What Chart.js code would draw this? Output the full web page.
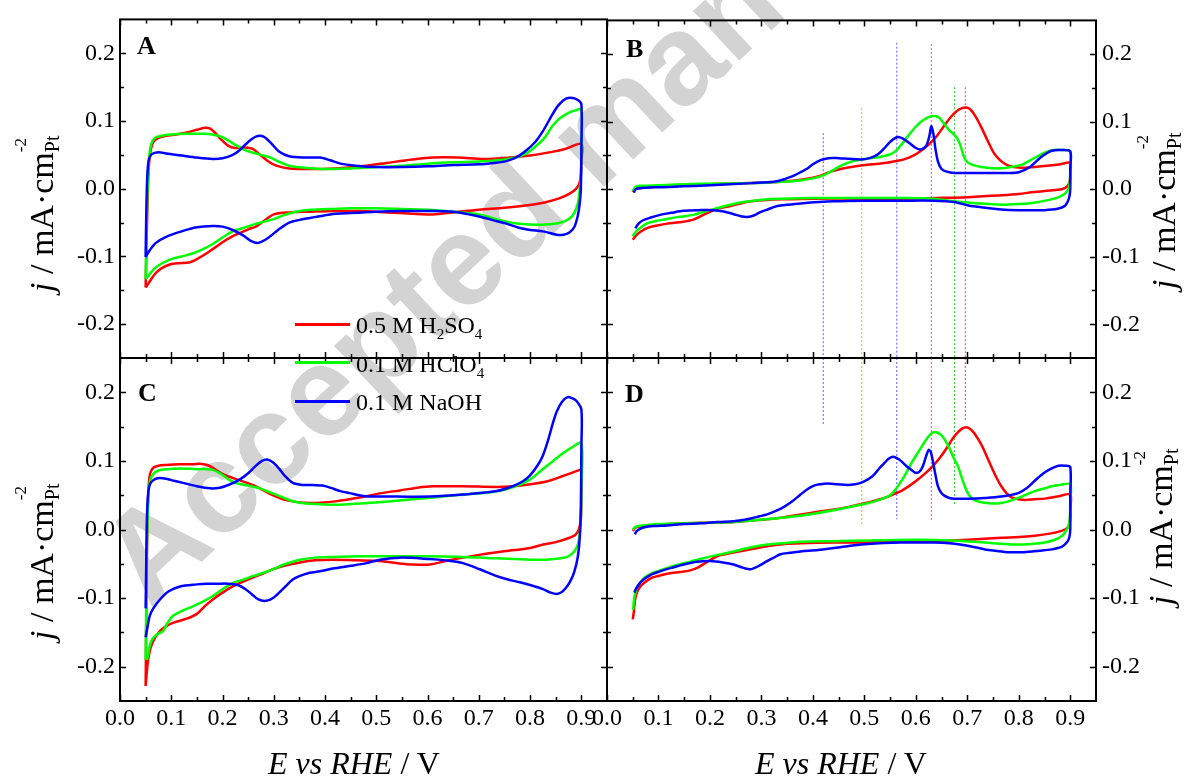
<!DOCTYPE html>
<html>
<head>
<meta charset="utf-8">
<script src="https://cdn.jsdelivr.net/npm/chart.js@4.4.1/dist/chart.umd.min.js"></script>
<style>
  html, body { margin: 0; padding: 0; background: #fff; }
  #stage { position: relative; width: 1189px; height: 776px; overflow: hidden; }
  #stage canvas { position: absolute; left: 0; top: 0; }
  .lbl { position: absolute; font-family: 'Liberation Serif', 'Times New Roman', serif; color: #000; white-space: nowrap; line-height: 1; }
  .watermark { position: absolute; left: 150px; top: 502px; font-family: 'Liberation Sans', Arial, sans-serif; font-weight: bold;
               font-size: 128px; line-height: 1; color: #d3d3d3; white-space: nowrap; transform-origin: 0 108px; transform: rotate(-43deg); }
  .panel { font-size: 26px; font-weight: bold; }
  .leg { font-size: 24px; }
  .leg sub { font-size: 15px; vertical-align: -6px; }
  .swatch { position: absolute; width: 55px; height: 2.5px; }
  .xtitle { font-size: 32px; }
  .ytitle { font-size: 34px; transform-origin: 0 0; transform: rotate(-90deg); }
  .ytitle .sup { font-size: 17px; position: relative; top: -27px; display: inline-block; width: 0; }
  .ytitle .sub { font-size: 20px; position: relative; top: 6px; }
</style>
</head>
<body>
<div id="stage">
  <div class="watermark">Accepted manuscript</div>
  <canvas id="chartA" width="1189" height="776"></canvas>
  <canvas id="chartB" width="1189" height="776"></canvas>
  <canvas id="chartC" width="1189" height="776"></canvas>
  <canvas id="chartD" width="1189" height="776"></canvas>

  <div class="lbl panel" style="left:137px;top:33px">A</div>
  <div class="lbl panel" style="left:626px;top:36px">B</div>
  <div class="lbl panel" style="left:138px;top:380px">C</div>
  <div class="lbl panel" style="left:625px;top:381px">D</div>

  <div class="swatch" style="left:295px;top:323px;background:#ff0000"></div>
  <div class="swatch" style="left:295px;top:361px;background:#00ff00"></div>
  <div class="swatch" style="left:295px;top:400px;background:#0000ff"></div>
  <div class="lbl leg" style="left:356px;top:313px">0.5 M H<sub>2</sub>SO<sub>4</sub></div>
  <div class="lbl leg" style="left:356px;top:352px">0.1 M HClO<sub>4</sub></div>
  <div class="lbl leg" style="left:356px;top:390px">0.1 M NaOH</div>

  <div class="lbl xtitle" style="left:268px;top:747px"><i>E vs RHE</i> / V</div>
  <div class="lbl xtitle" style="left:755px;top:747px"><i>E vs RHE</i> / V</div>

  <div class="lbl ytitle" style="left:25px;top:292px"><i>j</i> / mA·cm<span class="sup">-2</span><span class="sub">Pt</span></div>
  <div class="lbl ytitle" style="left:1147px;top:289px"><i>j</i> / mA·cm<span class="sup">-2</span><span class="sub">Pt</span></div>
  <div class="lbl ytitle" style="left:25px;top:640px"><i>j</i> / mA·cm<span class="sup">-2</span><span class="sub">Pt</span></div>
  <div class="lbl ytitle" style="left:1144px;top:605px"><i>j</i> / mA·cm<span class="sup">-2</span><span class="sub">Pt</span></div>
</div>
<script>
// axis ticks
const xMajorTicks = [0, 0.1, 0.2, 0.3, 0.4, 0.5, 0.6, 0.7, 0.8, 0.9];
const xMinorTicks = [0.05, 0.15, 0.25, 0.35, 0.45, 0.55, 0.65, 0.75, 0.85];
const yMajorTicks = [-0.2, -0.1, 0, 0.1, 0.2];
const yMinorTicks = [-0.15, -0.05, 0.05, 0.15];

// CV loops, [E (V), j (mA cm-2)] - anodic sweep then cathodic sweep
const A_H2SO4 = [[0.050,-0.146],[0.051,-0.110],[0.053,-0.040],[0.056,0.030],[0.060,0.058],[0.066,0.070],[0.075,0.075],[0.090,0.078],[0.110,0.080],[0.130,0.083],[0.150,0.087],[0.165,0.090],[0.175,0.089],[0.185,0.083],[0.197,0.073],[0.210,0.064],[0.225,0.060],[0.245,0.061],[0.258,0.059],[0.272,0.051],[0.288,0.041],[0.305,0.034],[0.33,0.030],[0.37,0.029],[0.42,0.030],[0.47,0.033],[0.52,0.038],[0.57,0.043],[0.61,0.046],[0.66,0.046],[0.71,0.044],[0.76,0.046],[0.80,0.049],[0.84,0.054],[0.87,0.059],[0.90,0.066],
  [0.900,0.040],[0.899,0.020],[0.896,0.008],[0.890,0.000],[0.878,-0.007],[0.858,-0.014],[0.83,-0.020],[0.80,-0.024],[0.75,-0.028],[0.70,-0.031],[0.65,-0.035],[0.61,-0.038],[0.57,-0.037],[0.52,-0.035],[0.47,-0.033],[0.42,-0.033],[0.37,-0.034],[0.33,-0.035],[0.30,-0.038],[0.28,-0.048],[0.265,-0.056],[0.25,-0.060],[0.235,-0.065],[0.22,-0.070],[0.20,-0.079],[0.185,-0.087],[0.17,-0.095],[0.15,-0.104],[0.135,-0.109],[0.115,-0.110],[0.097,-0.112],[0.08,-0.118],[0.068,-0.126],[0.058,-0.137],[0.050,-0.146]];
const A_HClO4 = [[0.050,-0.133],[0.051,-0.090],[0.053,-0.020],[0.056,0.040],[0.061,0.066],[0.068,0.075],[0.08,0.078],[0.10,0.080],[0.13,0.081],[0.16,0.081],[0.18,0.080],[0.20,0.076],[0.22,0.067],[0.244,0.057],[0.27,0.051],[0.29,0.047],[0.31,0.040],[0.33,0.034],[0.36,0.031],[0.40,0.029],[0.45,0.030],[0.50,0.032],[0.55,0.034],[0.60,0.037],[0.65,0.039],[0.70,0.040],[0.75,0.043],[0.77,0.046],[0.79,0.051],[0.81,0.062],[0.828,0.075],[0.845,0.094],[0.86,0.105],[0.875,0.112],[0.89,0.116],[0.90,0.117],
  [0.900,0.060],[0.899,0.020],[0.897,0.000],[0.893,-0.022],[0.886,-0.036],[0.877,-0.044],[0.86,-0.050],[0.83,-0.053],[0.80,-0.053],[0.77,-0.051],[0.75,-0.048],[0.72,-0.042],[0.70,-0.038],[0.65,-0.034],[0.60,-0.031],[0.55,-0.030],[0.50,-0.029],[0.45,-0.029],[0.41,-0.030],[0.38,-0.031],[0.35,-0.033],[0.32,-0.039],[0.30,-0.045],[0.28,-0.049],[0.26,-0.053],[0.24,-0.058],[0.22,-0.063],[0.20,-0.072],[0.18,-0.082],[0.16,-0.090],[0.14,-0.096],[0.12,-0.100],[0.10,-0.104],[0.085,-0.109],[0.07,-0.116],[0.06,-0.124],[0.053,-0.131],[0.050,-0.133]];
const A_NaOH = [[0.050,-0.101],[0.051,-0.050],[0.053,0.015],[0.056,0.042],[0.062,0.051],[0.075,0.054],[0.09,0.052],[0.12,0.049],[0.15,0.046],[0.18,0.044],[0.20,0.045],[0.22,0.050],[0.235,0.058],[0.25,0.069],[0.265,0.077],[0.28,0.077],[0.295,0.067],[0.31,0.055],[0.33,0.048],[0.36,0.046],[0.39,0.046],[0.41,0.042],[0.43,0.037],[0.46,0.034],[0.50,0.032],[0.55,0.032],[0.60,0.033],[0.65,0.035],[0.70,0.036],[0.73,0.038],[0.75,0.040],[0.77,0.045],[0.79,0.055],[0.81,0.069],[0.825,0.085],[0.84,0.105],[0.855,0.123],[0.87,0.133],[0.883,0.134],[0.893,0.131],[0.90,0.125],
  [0.900,0.060],[0.899,0.000],[0.897,-0.020],[0.893,-0.040],[0.886,-0.057],[0.876,-0.065],[0.865,-0.068],[0.852,-0.068],[0.825,-0.063],[0.80,-0.061],[0.78,-0.058],[0.755,-0.052],[0.735,-0.048],[0.70,-0.041],[0.65,-0.034],[0.60,-0.033],[0.55,-0.033],[0.50,-0.034],[0.45,-0.036],[0.41,-0.038],[0.38,-0.042],[0.35,-0.046],[0.33,-0.050],[0.31,-0.060],[0.29,-0.072],[0.27,-0.080],[0.255,-0.077],[0.24,-0.069],[0.22,-0.061],[0.20,-0.056],[0.18,-0.055],[0.15,-0.057],[0.12,-0.063],[0.09,-0.071],[0.07,-0.080],[0.058,-0.091],[0.050,-0.101]];

const B_H2SO4 = [[0.050,-0.004],[0.056,0.002],[0.07,0.004],[0.10,0.005],[0.18,0.007],[0.28,0.009],[0.34,0.011],[0.376,0.014],[0.40,0.017],[0.415,0.020],[0.435,0.026],[0.454,0.030],[0.475,0.033],[0.493,0.035],[0.515,0.037],[0.532,0.038],[0.55,0.040],[0.565,0.042],[0.58,0.045],[0.596,0.050],[0.61,0.057],[0.625,0.066],[0.64,0.078],[0.655,0.094],[0.668,0.107],[0.68,0.116],[0.69,0.120],[0.698,0.121],[0.706,0.118],[0.715,0.109],[0.727,0.092],[0.74,0.071],[0.752,0.053],[0.765,0.042],[0.78,0.035],[0.80,0.032],[0.83,0.033],[0.86,0.035],[0.88,0.037],[0.90,0.039],
  [0.900,0.025],[0.899,0.012],[0.894,0.004],[0.883,0.000],[0.86,-0.002],[0.83,-0.004],[0.80,-0.007],[0.766,-0.009],[0.70,-0.012],[0.635,-0.013],[0.571,-0.014],[0.50,-0.014],[0.40,-0.014],[0.34,-0.015],[0.31,-0.016],[0.28,-0.018],[0.265,-0.020],[0.24,-0.025],[0.214,-0.029],[0.19,-0.037],[0.168,-0.045],[0.14,-0.049],[0.117,-0.051],[0.095,-0.054],[0.08,-0.057],[0.065,-0.063],[0.056,-0.069],[0.050,-0.075]];
const B_HClO4 = [[0.050,-0.003],[0.056,0.004],[0.07,0.005],[0.10,0.006],[0.18,0.008],[0.28,0.009],[0.34,0.011],[0.376,0.013],[0.40,0.016],[0.415,0.019],[0.43,0.024],[0.441,0.029],[0.455,0.035],[0.468,0.039],[0.48,0.042],[0.493,0.044],[0.51,0.046],[0.532,0.048],[0.548,0.051],[0.56,0.056],[0.572,0.066],[0.585,0.079],[0.598,0.091],[0.61,0.100],[0.62,0.105],[0.63,0.108],[0.643,0.107],[0.655,0.097],[0.665,0.087],[0.674,0.081],[0.68,0.076],[0.686,0.066],[0.694,0.047],[0.70,0.040],[0.71,0.036],[0.727,0.033],[0.75,0.031],[0.766,0.031],[0.785,0.033],[0.805,0.036],[0.83,0.046],[0.85,0.054],[0.869,0.058],[0.885,0.058],[0.90,0.056],
  [0.900,0.030],[0.899,0.010],[0.896,0.000],[0.889,-0.007],[0.869,-0.014],[0.83,-0.020],[0.80,-0.022],[0.766,-0.023],[0.721,-0.021],[0.674,-0.018],[0.635,-0.014],[0.571,-0.013],[0.50,-0.013],[0.40,-0.013],[0.34,-0.014],[0.312,-0.015],[0.285,-0.017],[0.265,-0.019],[0.24,-0.023],[0.214,-0.028],[0.19,-0.033],[0.168,-0.038],[0.14,-0.041],[0.117,-0.044],[0.095,-0.047],[0.08,-0.050],[0.065,-0.057],[0.056,-0.063],[0.050,-0.070]];
const B_NaOH = [[0.052,-0.005],[0.056,0.000],[0.07,0.002],[0.10,0.003],[0.18,0.005],[0.28,0.009],[0.324,0.011],[0.345,0.015],[0.363,0.020],[0.378,0.026],[0.39,0.031],[0.40,0.037],[0.415,0.043],[0.43,0.046],[0.45,0.046],[0.47,0.045],[0.493,0.044],[0.51,0.046],[0.525,0.051],[0.538,0.060],[0.55,0.070],[0.563,0.077],[0.575,0.075],[0.588,0.068],[0.60,0.061],[0.61,0.059],[0.62,0.064],[0.626,0.078],[0.63,0.093],[0.634,0.082],[0.638,0.060],[0.643,0.041],[0.65,0.030],[0.66,0.026],[0.675,0.024],[0.70,0.024],[0.75,0.024],[0.78,0.024],[0.80,0.025],[0.82,0.032],[0.844,0.048],[0.864,0.057],[0.885,0.058],[0.90,0.056],
  [0.900,0.030],[0.900,0.000],[0.898,-0.012],[0.894,-0.020],[0.889,-0.025],[0.875,-0.029],[0.85,-0.031],[0.83,-0.031],[0.80,-0.031],[0.766,-0.030],[0.73,-0.027],[0.702,-0.024],[0.674,-0.019],[0.635,-0.017],[0.571,-0.017],[0.50,-0.017],[0.441,-0.018],[0.376,-0.021],[0.35,-0.023],[0.331,-0.025],[0.312,-0.030],[0.298,-0.034],[0.285,-0.039],[0.273,-0.041],[0.26,-0.040],[0.246,-0.037],[0.227,-0.033],[0.207,-0.031],[0.18,-0.031],[0.148,-0.032],[0.125,-0.035],[0.103,-0.038],[0.085,-0.042],[0.07,-0.046],[0.06,-0.052],[0.055,-0.058]];

const C_H2SO4 = [[0.050,-0.228],[0.051,-0.150],[0.052,-0.060],[0.054,0.020],[0.056,0.065],[0.059,0.082],[0.065,0.090],[0.075,0.093],[0.09,0.094],[0.117,0.095],[0.14,0.095],[0.156,0.096],[0.17,0.094],[0.181,0.090],[0.195,0.083],[0.209,0.078],[0.228,0.073],[0.248,0.068],[0.262,0.064],[0.273,0.060],[0.285,0.055],[0.298,0.050],[0.318,0.044],[0.337,0.041],[0.36,0.039],[0.39,0.039],[0.42,0.041],[0.47,0.047],[0.51,0.053],[0.546,0.057],[0.58,0.061],[0.61,0.063],[0.669,0.063],[0.735,0.062],[0.766,0.063],[0.80,0.066],[0.832,0.070],[0.864,0.078],[0.897,0.087],[0.90,0.088],
  [0.900,0.050],[0.899,0.015],[0.895,0.000],[0.888,-0.008],[0.877,-0.012],[0.852,-0.018],[0.82,-0.023],[0.80,-0.027],[0.77,-0.030],[0.735,-0.033],[0.70,-0.037],[0.669,-0.041],[0.635,-0.046],[0.604,-0.051],[0.571,-0.051],[0.54,-0.049],[0.507,-0.046],[0.46,-0.045],[0.415,-0.044],[0.38,-0.045],[0.351,-0.048],[0.32,-0.053],[0.298,-0.058],[0.28,-0.064],[0.259,-0.070],[0.24,-0.076],[0.22,-0.083],[0.20,-0.092],[0.181,-0.102],[0.165,-0.112],[0.15,-0.123],[0.13,-0.130],[0.103,-0.136],[0.088,-0.142],[0.078,-0.148],[0.068,-0.158],[0.06,-0.172],[0.055,-0.190],[0.052,-0.210],[0.050,-0.228]];
const C_HClO4 = [[0.050,-0.190],[0.051,-0.120],[0.052,-0.050],[0.054,0.020],[0.056,0.055],[0.059,0.072],[0.065,0.081],[0.075,0.086],[0.09,0.088],[0.12,0.089],[0.15,0.088],[0.17,0.088],[0.181,0.087],[0.195,0.082],[0.21,0.074],[0.225,0.068],[0.25,0.064],[0.273,0.060],[0.29,0.055],[0.31,0.049],[0.33,0.043],[0.35,0.039],[0.38,0.037],[0.415,0.036],[0.47,0.038],[0.54,0.042],[0.60,0.046],[0.669,0.051],[0.72,0.054],[0.75,0.058],[0.775,0.064],[0.80,0.073],[0.82,0.085],[0.84,0.097],[0.864,0.111],[0.88,0.119],[0.90,0.126],
  [0.900,0.060],[0.899,0.020],[0.897,-0.005],[0.893,-0.022],[0.886,-0.032],[0.875,-0.039],[0.86,-0.042],[0.83,-0.044],[0.799,-0.044],[0.735,-0.042],[0.669,-0.040],[0.60,-0.039],[0.54,-0.039],[0.47,-0.039],[0.415,-0.040],[0.38,-0.041],[0.351,-0.044],[0.32,-0.051],[0.298,-0.058],[0.28,-0.063],[0.259,-0.068],[0.24,-0.073],[0.220,-0.078],[0.20,-0.087],[0.181,-0.097],[0.16,-0.106],[0.142,-0.112],[0.12,-0.119],[0.103,-0.126],[0.092,-0.137],[0.084,-0.148],[0.072,-0.153],[0.063,-0.160],[0.058,-0.170],[0.053,-0.190]];
const C_NaOH = [[0.050,-0.115],[0.051,-0.060],[0.052,0.000],[0.054,0.045],[0.057,0.063],[0.062,0.070],[0.07,0.074],[0.078,0.075],[0.09,0.074],[0.10,0.072],[0.123,0.068],[0.15,0.063],[0.175,0.060],[0.195,0.061],[0.215,0.066],[0.234,0.073],[0.25,0.082],[0.265,0.093],[0.277,0.100],[0.287,0.102],[0.298,0.098],[0.31,0.089],[0.323,0.077],[0.337,0.068],[0.356,0.065],[0.376,0.065],[0.395,0.064],[0.41,0.061],[0.43,0.056],[0.448,0.053],[0.475,0.049],[0.507,0.048],[0.54,0.048],[0.604,0.048],[0.669,0.051],[0.735,0.056],[0.766,0.063],[0.785,0.070],[0.80,0.079],[0.815,0.094],[0.825,0.108],[0.835,0.130],[0.844,0.154],[0.852,0.172],[0.862,0.186],[0.873,0.193],[0.883,0.191],[0.891,0.187],[0.90,0.175],
  [0.900,0.120],[0.899,0.034],[0.897,-0.010],[0.893,-0.040],[0.886,-0.062],[0.878,-0.076],[0.87,-0.085],[0.862,-0.091],[0.852,-0.094],[0.84,-0.092],[0.825,-0.087],[0.80,-0.081],[0.78,-0.077],[0.757,-0.073],[0.735,-0.068],[0.702,-0.058],[0.669,-0.049],[0.635,-0.045],[0.604,-0.043],[0.546,-0.041],[0.507,-0.044],[0.481,-0.049],[0.45,-0.053],[0.415,-0.057],[0.39,-0.061],[0.37,-0.063],[0.35,-0.068],[0.337,-0.073],[0.32,-0.085],[0.30,-0.099],[0.285,-0.104],[0.27,-0.102],[0.258,-0.095],[0.245,-0.087],[0.23,-0.081],[0.21,-0.079],[0.19,-0.079],[0.17,-0.079],[0.15,-0.080],[0.117,-0.083],[0.095,-0.090],[0.078,-0.102],[0.065,-0.115],[0.058,-0.126],[0.053,-0.145],[0.050,-0.157]];

const D_H2SO4 = [[0.050,-0.002],[0.056,0.003],[0.071,0.005],[0.10,0.007],[0.149,0.009],[0.20,0.010],[0.246,0.011],[0.28,0.013],[0.311,0.015],[0.345,0.018],[0.376,0.022],[0.41,0.026],[0.441,0.029],[0.47,0.033],[0.493,0.037],[0.515,0.041],[0.539,0.046],[0.555,0.051],[0.571,0.056],[0.588,0.064],[0.604,0.073],[0.62,0.083],[0.636,0.095],[0.65,0.108],[0.662,0.121],[0.672,0.133],[0.682,0.142],[0.69,0.147],[0.697,0.149],[0.705,0.147],[0.714,0.140],[0.727,0.124],[0.737,0.108],[0.747,0.091],[0.757,0.075],[0.766,0.063],[0.776,0.053],[0.786,0.047],[0.80,0.044],[0.812,0.043],[0.83,0.044],[0.851,0.045],[0.875,0.048],[0.90,0.051],
  [0.900,0.030],[0.899,0.010],[0.894,0.002],[0.883,-0.002],[0.86,-0.006],[0.831,-0.009],[0.80,-0.011],[0.766,-0.012],[0.701,-0.015],[0.636,-0.017],[0.571,-0.018],[0.50,-0.019],[0.441,-0.019],[0.376,-0.020],[0.345,-0.021],[0.324,-0.023],[0.30,-0.026],[0.279,-0.029],[0.25,-0.033],[0.23,-0.036],[0.214,-0.039],[0.195,-0.047],[0.175,-0.056],[0.16,-0.060],[0.142,-0.062],[0.12,-0.064],[0.103,-0.067],[0.088,-0.070],[0.077,-0.075],[0.066,-0.082],[0.058,-0.092],[0.054,-0.105],[0.052,-0.121],[0.050,-0.131]];
const D_HClO4 = [[0.050,0.000],[0.056,0.004],[0.071,0.006],[0.10,0.008],[0.149,0.009],[0.20,0.010],[0.246,0.011],[0.31,0.015],[0.376,0.020],[0.44,0.028],[0.493,0.036],[0.52,0.041],[0.539,0.046],[0.55,0.050],[0.558,0.056],[0.567,0.065],[0.578,0.078],[0.59,0.095],[0.604,0.112],[0.614,0.124],[0.623,0.134],[0.63,0.140],[0.636,0.142],[0.642,0.141],[0.649,0.138],[0.657,0.130],[0.665,0.119],[0.673,0.105],[0.682,0.092],[0.688,0.078],[0.695,0.063],[0.701,0.053],[0.708,0.046],[0.72,0.041],[0.734,0.039],[0.75,0.038],[0.76,0.038],[0.78,0.041],[0.799,0.046],[0.815,0.051],[0.831,0.056],[0.85,0.060],[0.864,0.063],[0.88,0.065],[0.90,0.066],
  [0.900,0.040],[0.899,0.015],[0.896,0.005],[0.89,-0.004],[0.883,-0.010],[0.87,-0.015],[0.851,-0.019],[0.825,-0.021],[0.799,-0.022],[0.77,-0.021],[0.734,-0.019],[0.669,-0.016],[0.604,-0.015],[0.506,-0.016],[0.44,-0.017],[0.376,-0.018],[0.34,-0.020],[0.311,-0.022],[0.28,-0.026],[0.246,-0.032],[0.215,-0.037],[0.181,-0.043],[0.155,-0.048],[0.129,-0.053],[0.11,-0.058],[0.09,-0.063],[0.075,-0.069],[0.064,-0.078],[0.058,-0.085],[0.055,-0.092],[0.052,-0.105],[0.051,-0.117]];
const D_NaOH = [[0.054,-0.007],[0.058,-0.002],[0.064,0.001],[0.071,0.003],[0.09,0.005],[0.116,0.006],[0.15,0.008],[0.181,0.009],[0.215,0.011],[0.246,0.012],[0.265,0.014],[0.279,0.016],[0.295,0.019],[0.311,0.022],[0.328,0.027],[0.344,0.033],[0.36,0.041],[0.376,0.051],[0.39,0.059],[0.402,0.064],[0.415,0.066],[0.428,0.067],[0.447,0.066],[0.467,0.065],[0.482,0.066],[0.493,0.068],[0.507,0.073],[0.519,0.080],[0.53,0.090],[0.539,0.097],[0.547,0.103],[0.555,0.106],[0.563,0.104],[0.571,0.100],[0.581,0.093],[0.591,0.087],[0.598,0.083],[0.604,0.083],[0.609,0.086],[0.614,0.093],[0.62,0.107],[0.625,0.116],[0.629,0.113],[0.633,0.100],[0.638,0.080],[0.643,0.063],[0.649,0.054],[0.656,0.049],[0.665,0.046],[0.675,0.045],[0.70,0.045],[0.734,0.046],[0.766,0.048],[0.799,0.053],[0.815,0.060],[0.831,0.071],[0.848,0.082],[0.864,0.089],[0.877,0.093],[0.89,0.093],[0.90,0.091],
  [0.900,0.050],[0.900,0.000],[0.898,-0.012],[0.893,-0.019],[0.884,-0.025],[0.864,-0.029],[0.84,-0.031],[0.81,-0.033],[0.779,-0.033],[0.755,-0.031],[0.734,-0.029],[0.715,-0.026],[0.695,-0.023],[0.665,-0.020],[0.636,-0.019],[0.571,-0.019],[0.506,-0.021],[0.47,-0.024],[0.441,-0.027],[0.41,-0.030],[0.376,-0.032],[0.355,-0.034],[0.337,-0.036],[0.324,-0.041],[0.311,-0.046],[0.295,-0.053],[0.279,-0.058],[0.265,-0.056],[0.246,-0.051],[0.225,-0.048],[0.201,-0.046],[0.175,-0.047],[0.149,-0.051],[0.125,-0.056],[0.103,-0.061],[0.085,-0.066],[0.071,-0.073],[0.062,-0.080],[0.056,-0.087],[0.053,-0.092]];

// dotted peak markers crossing panels B and D
const markerE = [0.420, 0.495, 0.563, 0.630, 0.675, 0.696];
const markerTopB = [0.083, 0.120, 0.217, 0.215, 0.151, 0.151];
const markerBottomD = [0.153, 0.005, 0.015, 0.011, 0.035, 0.158];

const markerColors = ['#5a5aff', '#ff9a3c', '#5a5aff', '#ff30ff', '#30d030', '#ff3a3a'];
const seriesColors = { h2so4: '#ff0000', hclo4: '#00ff00', naoh: '#0000ff' };
const tickFont = { family: "'Liberation Serif', 'Times New Roman', serif", size: 24 };

// box frame + inward ticks on all four sides
const frameTicks = {
  id: 'frameTicks',
  afterDatasetsDraw(chart) {
    const { ctx, chartArea: a, scales: { x, y } } = chart;
    ctx.save();
    ctx.strokeStyle = '#000';
    ctx.lineWidth = 1.5;
    ctx.beginPath();
    const xt = (v, len) => {
      const px = Math.round(x.getPixelForValue(v)) + 0.5;
      ctx.moveTo(px, a.top); ctx.lineTo(px, a.top + len);
      ctx.moveTo(px, a.bottom); ctx.lineTo(px, a.bottom - len);
    };
    const yt = (v, len) => {
      const py = Math.round(y.getPixelForValue(v)) + 0.5;
      ctx.moveTo(a.left, py); ctx.lineTo(a.left + len, py);
      ctx.moveTo(a.right, py); ctx.lineTo(a.right - len, py);
    };
    xMajorTicks.forEach(v => xt(v, 6));
    xMinorTicks.forEach(v => xt(v, 4));
    yMajorTicks.forEach(v => yt(v, 6));
    yMinorTicks.forEach(v => yt(v, 4));
    ctx.stroke();
    ctx.lineWidth = 2;
    ctx.strokeRect(a.left, a.top, a.right - a.left, a.bottom - a.top);
    ctx.restore();
  }
};

function loop(data, color) {
  return { data, borderColor: color, borderWidth: 2.5, showLine: true, pointRadius: 0, tension: 0.3, fill: false };
}

function markerSets(ends, inB) {
  return markerE.map((e, i) => ({
    data: inB ? [[e, ends[i]], [e, -0.25]] : [[e, 0.25], [e, ends[i]]],
    borderColor: markerColors[i], borderWidth: 1, borderDash: [2, 2], showLine: true, pointRadius: 0, tension: 0
  }));
}

// pad: layout padding, yW: width of the y axis band, xH: height of the x axis band
function makePanel(id, pad, yW, xH, loops, extra, showX, yPos) {
  const datasets = [
    loop(loops[2], seriesColors.naoh),
    loop(loops[1], seriesColors.hclo4),
    loop(loops[0], seriesColors.h2so4)
  ].concat(extra);
  return new Chart(document.getElementById(id), {
    type: 'scatter',
    data: { datasets },
    options: {
      responsive: false,
      animation: false,
      layout: { padding: pad },
      plugins: { legend: { display: false }, tooltip: { enabled: false } },
      scales: {
        x: {
          type: 'linear', min: 0, max: 0.95, position: 'bottom',
          grid: { display: false, drawTicks: false }, border: { display: false },
          ticks: { display: showX, font: tickFont, color: '#000', padding: 3, autoSkip: false, maxRotation: 0,
                   callback: v => v.toFixed(1) },
          afterBuildTicks: s => { s.ticks = xMajorTicks.map(v => ({ value: v })); },
          afterFit: s => { s.height = xH; }
        },
        y: {
          type: 'linear', min: -0.25, max: 0.25, position: yPos,
          grid: { display: false, drawTicks: false }, border: { display: false },
          ticks: { font: tickFont, color: '#000', padding: yPos === 'left' ? 5 : 6, autoSkip: false,
                   callback: v => v.toFixed(1) },
          afterBuildTicks: s => { s.ticks = yMajorTicks.map(v => ({ value: v })); },
          afterFit: s => { s.width = yW; }
        }
      }
    },
    plugins: [frameTicks]
  });
}

makePanel('chartA', { left: 0, top: 15, right: 582, bottom: 418 }, 120, 0, [A_H2SO4, A_HClO4, A_NaOH], [], false, 'left');
makePanel('chartB', { left: 607, top: 15, right: 0, bottom: 418 }, 93, 0, [B_H2SO4, B_HClO4, B_NaOH], markerSets(markerTopB, true), false, 'right');
makePanel('chartC', { left: 0, top: 358, right: 582, bottom: 0 }, 120, 75, [C_H2SO4, C_HClO4, C_NaOH], [], true, 'left');
makePanel('chartD', { left: 607, top: 358, right: 0, bottom: 0 }, 93, 75, [D_H2SO4, D_HClO4, D_NaOH], markerSets(markerBottomD, false), true, 'right');
</script>
</body>
</html>
